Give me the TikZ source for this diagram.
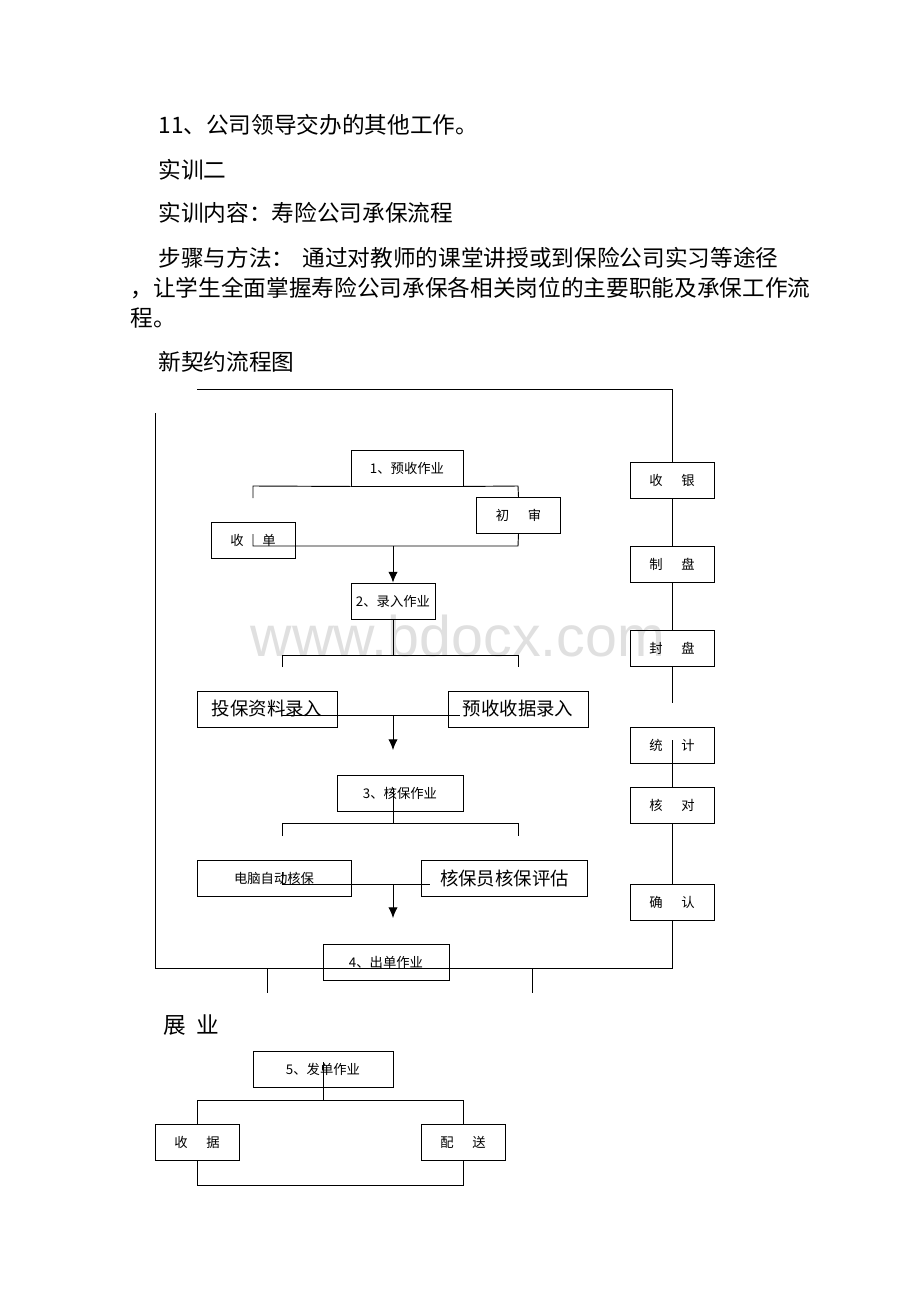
\documentclass[tikz,border=0pt]{standalone}
\usepackage{fontspec}
\newfontfamily\cjk{Noto Sans CJK SC}
\newfontfamily\wmfont{Liberation Sans}
\usetikzlibrary{arrows.meta}

\begin{document}
\begin{tikzpicture}[
	x = 0.75pt, y = -0.75pt, % one unit = one pixel of the page
	> = {Latex[length=8pt, width=7pt]}, % arrow head style
	line width = 0.7pt, % line style
	box/.style={draw, rectangle, inner sep=1pt, minimum width=63pt, minimum height=27pt, font=\cjk\fontsize{10pt}{12pt}\selectfont},
	bigbox/.style={box, font=\cjk\fontsize{13.8pt}{16pt}\selectfont},
	para/.style={anchor=west, inner sep=0pt, font=\cjk\fontsize{17pt}{20pt}\selectfont},
	]
	\useasboundingbox[fill=white] (0,0) rectangle (920,1302);

	% Watermark
	\node[text=black!12, font=\wmfont\fontsize{43pt}{48pt}\selectfont] (wm) at (458,636) {www.bdocx.com};

	% Text of the page
	\node[para] (l1) at (158,125) {11、公司领导交办的其他工作。};
	\node[para] (l2) at (158,170) {实训二};
	\node[para] (l3) at (158,213) {实训内容：寿险公司承保流程};
	\node[para] (l4) at (158,258) {步骤与方法：\hspace{6pt}通过对教师的课堂讲授或到保险公司实习等途径};
	\node[para] (l5) at (130,288) {，让学生全面掌握寿险公司承保各相关岗位的主要职能及承保工作流};
	\node[para] (l6) at (130,318) {程。};
	\node[para] (l7) at (158,362) {新契约流程图};
	\node[para] (l8) at (163,1025) {展\hspace{8pt}业};

	% Nodes of the main chart
	\node[box, minimum width=84pt] (yushou) at (407,468) {1、预收作业};
	\node[box] (chushen) at (518.5,515.5) {初\hspace{1.4em}审};
	\node[box] (shoudan) at (253,540) {收\hspace{1.4em}单};
	\node[box] (luru) at (393,601) {2、录入作业};
	\node[bigbox, minimum width=105pt] (toubao) at (267,709) {投保资料录入};
	\node[bigbox, minimum width=105pt] (yushouju) at (518,709) {预收收据录入};
	\node[box, minimum width=94.5pt] (hebao) at (400,793) {3、核保作业};
	\node[box, minimum width=115.5pt] (diannao) at (274,878) {电脑自动核保};
	\node[bigbox, minimum width=125pt] (hebaoyuan) at (504.5,878) {核保员核保评估};
	\node[box, minimum width=94.5pt] (chudan) at (386,962) {4、出单作业};

	% Right column
	\node[box] (shouyin) at (672,480) {收\hspace{1.4em}银};
	\node[box] (zhipan) at (672,564) {制\hspace{1.4em}盘};
	\node[box] (fengpan) at (672,648) {封\hspace{1.4em}盘};
	\node[box] (tongji) at (672,745) {统\hspace{1.4em}计};
	\node[box] (heduei) at (672,805) {核\hspace{1.4em}对};
	\node[box] (queren) at (672,902) {确\hspace{1.4em}认};

	% Nodes of the second chart
	\node[box, minimum width=105pt] (fadan) at (323,1069.5) {5、发单作业};
	\node[box] (shouju) at (197,1142.5) {收\hspace{1.4em}据};
	\node[box] (peisong) at (463,1142.5) {配\hspace{1.4em}送};

	% Junctions and loose ends
	\coordinate (topl) at (197,389);
	\coordinate (topr) at (672,389);
	\coordinate (outl) at (155,413);
	\coordinate (botl) at (155,968);
	\coordinate (botr) at (672,968);
	\coordinate (b1l) at (253,486);
	\coordinate (b1e) at (253,498);
	\coordinate (b1r) at (518,486);
	\coordinate (m1s) at (253,534);
	\coordinate (m1l) at (253,546);
	\coordinate (m1r) at (518,546);
	\coordinate (m1) at (393,546);
	\coordinate (b2) at (393,655);
	\coordinate (m2) at (393,715);
	\coordinate (a2) at (393,750);
	\coordinate (b3s) at (393,788);
	\coordinate (b3) at (393,823);
	\coordinate (m3) at (393,884);
	\coordinate (a3) at (393,918);
	\coordinate (fpend) at (672,703);
	\coordinate (tjs) at (672,740);

	% Outer loop
	\draw (topl) -- (topr) -- (shouyin.north);
	\draw (outl) -- (botl) -- (botr) -- (queren.south);
	\draw (267,968) -- (267,993);
	\draw (532,968) -- (532,993);

	% Right column links
	\draw (shouyin.south) -- (zhipan.north);
	\draw (zhipan.south) -- (fengpan.north);
	\draw (fengpan.south) -- (fpend);
	\draw (tjs) -- (heduei.north);
	\draw (heduei.south) -- (queren.north);

	% Step 1
	\draw (yushou.south west) -- (b1l) -- (b1e);
	\draw (yushou.south east) -- (b1r) -- (chushen.north);
	\draw (m1s) -- (m1l) -- (m1r) -- (chushen.south);
	\draw[->] (m1) -- (luru.north);

	% Step 2
	\draw (luru.south) -- (b2);
	\draw (282,667) -- (282,655) -- (518,655) -- (518,667);
	\draw (282,715) -- (460,715);
	\draw[->] (m2) -- (a2);

	% Step 3
	\draw (b3s) -- (b3);
	\draw (282,836) -- (282,823) -- (518,823) -- (518,836);
	\draw (282,872) -- (282,884) -- (430,884);
	\draw[->] (m3) -- (a3);

	% Step 5
	\draw (323,1062) -- (323,1100);
	\draw (shouju.north) -- (197,1100) -- (463,1100) -- (peisong.north);
	\draw (shouju.south) -- (197,1185) -- (463,1185) -- (peisong.south);
\end{tikzpicture}
\end{document}
